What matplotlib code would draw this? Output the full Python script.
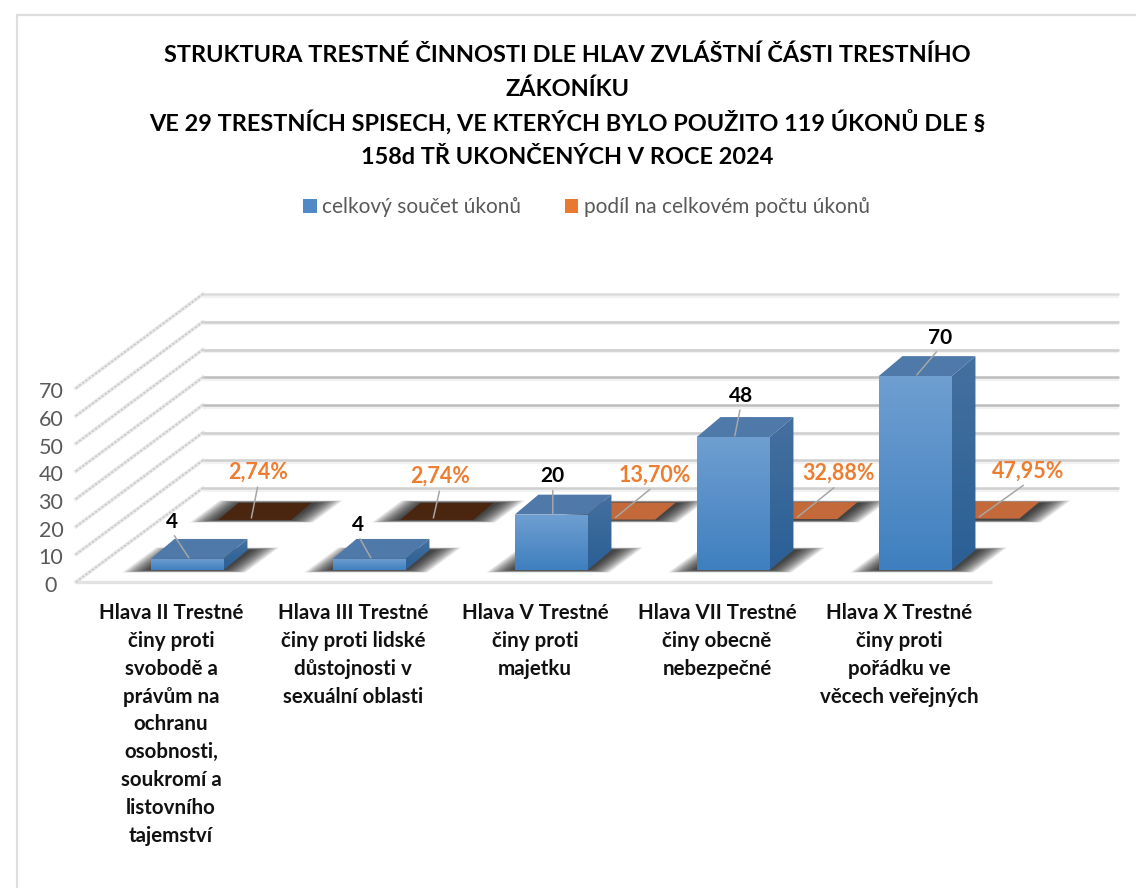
# plot.py
import matplotlib
matplotlib.use("Agg")
import matplotlib.pyplot as plt
import numpy as np
from matplotlib.colors import to_rgb
from matplotlib.patches import Patch, Polygon, Rectangle
from matplotlib.transforms import ScaledTranslation

plt.rcParams['font.family'] = ['Lato', 'DejaVu Sans']

# === data ===
categories = [
    "Hlava II Trestné\nčiny proti\nsvobodě a\nprávům na\nochranu\nosobnosti,\nsoukromí a\nlistovního\ntajemství",
    "Hlava III Trestné\nčiny proti lidské\ndůstojnosti v\nsexuální oblasti",
    "Hlava V Trestné\nčiny proti\nmajetku",
    "Hlava VII Trestné\nčiny obecně\nnebezpečné",
    "Hlava X Trestné\nčiny proti\npořádku ve\nvěcech veřejných",
]
total_acts = [4, 4, 20, 48, 70]
share_acts = [0.0274, 0.0274, 0.1370, 0.3288, 0.4795]
value_ticks = [0, 10, 20, 30, 40, 50, 60, 70]
series_names = ["celkový součet úkonů", "podíl na celkovém počtu úkonů"]
title_lines = ["STRUKTURA TRESTNÉ ČINNOSTI DLE HLAV ZVLÁŠTNÍ ČÁSTI TRESTNÍHO",
               "ZÁKONÍKU",
               "VE 29 TRESTNÍCH SPISECH, VE KTERÝCH BYLO POUŽITO 119 ÚKONŮ DLE §",
               "158d TŘ UKONČENÝCH V ROCE 2024"]

# === layout (pixels of the 1136x888 picture) ===
W, H = 1136, 888
PITCH = 182.0   # px per category
UNIT = 2.77     # px per value unit
CAT0_PX = 171
ZERO_PX = 582
DEPTH_DX = 127 / PITCH   # floor skew, data units per unit of depth
DEPTH_DY = 94 / UNIT

title_y = [55, 89, 122, 157]
front_offsets = [(-17, 26), (-13, 23), (0, 27), (6, 30), (23, 27)]
rear_offsets = [(7, 35), (7, 31), (39, 32), (41, 33), (49, 35)]
rear_colors = ['#4a2510', '#4a2510', '#c4693a', '#c4693a', '#c4693a']


def project(c, d, v):
    """Oblique projection of (category, depth, value) into the 2D axes."""
    return c + d * DEPTH_DX, v + d * DEPTH_DY


def gradient_poly(ax, verts, top, bottom, zorder):
    """Fill a polygon with a vertical gradient, clipped image style."""
    verts = np.array(verts)
    grad = np.linspace(0, 1, 64)[:, None, None]
    img = (1 - grad) * np.array(to_rgb(bottom)) + grad * np.array(to_rgb(top))
    im = ax.imshow(img, origin='lower', aspect='auto', zorder=zorder,
                   extent=(verts[:, 0].min(), verts[:, 0].max(),
                           verts[:, 1].min(), verts[:, 1].max()))
    clip = Polygon(verts, closed=True, transform=ax.transData)
    im.set_clip_path(clip)


def draw_shadow(ax, c, d0, d1, half, zorder):
    """Soft floor shadow, built from stacked translucent parallelograms."""
    n = 14
    for i in range(n):
        frac = (n - i) / n
        grow = half + frac * 25 / PITCH
        edge = frac * 2.5 / 94   # a little blur towards and away from the viewer
        verts = [project(c - grow, d0 - edge, 0), project(c + grow, d0 - edge, 0),
                 project(c + grow, d1 + edge, 0), project(c - grow, d1 + edge, 0)]
        ax.add_patch(Polygon(verts, closed=True, fc='black', ec='none',
                             alpha=0.085, zorder=zorder))


def draw_bar(ax, c, v, d0, d1, half, front_top, front_bot, side_top, side_bot,
             top_col, zorder):
    fl = project(c - half, d0, 0)
    fr = project(c + half, d0, 0)
    flt = project(c - half, d0, v)
    frt = project(c + half, d0, v)
    # the bars use a flatter skew than the floor
    skew = 0.88
    dx = (d1 - d0) * DEPTH_DX * skew
    dy = (d1 - d0) * DEPTH_DY
    brt = (frt[0] + dx, frt[1] + dy)
    blt = (flt[0] + dx, flt[1] + dy)
    br = (fr[0] + dx, fr[1] + dy)
    ax.add_patch(Polygon([flt, frt, brt, blt], closed=True, fc=top_col, ec='none', zorder=zorder))
    if v > 1:
        gradient_poly(ax, [fr, br, brt, frt], side_top, side_bot, zorder)
        gradient_poly(ax, [fl, fr, frt, flt], front_top, front_bot, zorder + 0.1)


fig = plt.figure(figsize=(W / 100, H / 100), dpi=100)
ax = fig.add_axes([0, 0, 1, 1])
cats = np.arange(len(categories))
floor_l, floor_r = -0.522, 4.51

# walls and floor
for v in value_ticks:
    shade = '#bdbdbd' if v in (30, 40) else ('#cfcfcf' if v < 70 else '#dcdcdc')
    x0, y0 = project(floor_l, 1, v)
    x1, y1 = project(floor_r, 1, v)
    ax.plot([x0, x1], [y0 - 1.6 / UNIT, y1 - 1.6 / UNIT], color='#f2f2f2', lw=3, zorder=1,
            solid_capstyle='butt')
    ax.plot([x0, x1], [y0, y1], color=shade, lw=1.8, zorder=1.1, solid_capstyle='butt')
    fx, fy = project(floor_l, 0, v)
    ax.plot([fx, x0], [fy, y0], color='#e8e8e8', lw=2.6, zorder=1)
    ax.plot([fx, x0], [fy, y0], color='#c8c8c8', lw=1.2, ls=(0, (1.2, 1.2)), zorder=1.1)
x0, y0 = project(floor_l, 0, 0)
x1, y1 = project(floor_r, 0, 0)
ax.plot([x0, x1], [y0, y1], color='#e2e2e2', lw=2.4, zorder=1, solid_capstyle='butt')

# rear series (share of acts) - the values are fractions, so almost flat
rear_half = 36.5 / PITCH
for c, v, col, off in zip(cats, share_acts, rear_colors, rear_offsets):
    draw_shadow(ax, c, 0.66, 0.84, rear_half, 2)
    draw_bar(ax, c, v, 0.66, 0.84, rear_half, col, col, col, col, col, 3)
    x, y = project(c, 0.68, v)
    xy = (x - 6 / PITCH, y)
    txt = f"{v * 100:.2f}%".replace('.', ',')
    ax.annotate(txt, xy=xy, xytext=off, textcoords='offset pixels', ha='center', va='bottom',
                color='#ed7d31', fontsize=15.5, fontweight='bold', zorder=8,
                arrowprops=dict(arrowstyle='-', color='#a6a6a6', lw=1.1, shrinkA=1, shrinkB=0,
                                relpos=(0.5, 0), zorder=8))

# front series (total number of acts)
front_half = 36.5 / PITCH
for c, v, off in zip(cats, total_acts, front_offsets):
    draw_shadow(ax, c, 0.128, 0.34, front_half, 4)
    draw_bar(ax, c, v, 0.128, 0.34, front_half, '#6f9fd1', '#3f7fbf', '#44709f', '#2b5f95',
             '#4f79a9', 5)
    xy = project(c, 0.14, v)
    ax.annotate(str(v), xy=xy, xytext=off, textcoords='offset pixels', ha='center', va='bottom',
                color='black', fontsize=15, fontweight='bold', zorder=9,
                arrowprops=dict(arrowstyle='-', color='#a6a6a6', lw=1.1, shrinkA=1, shrinkB=0,
                                relpos=(0.5, 0), zorder=9))

# axes
ax.set_xlim((0 - CAT0_PX) / PITCH, (W - CAT0_PX) / PITCH)
ax.set_ylim((ZERO_PX - H) / UNIT, ZERO_PX / UNIT)
for name in ('top', 'right'):
    ax.spines[name].set_visible(False)
ax.spines['left'].set_position(('data', (51 - CAT0_PX) / PITCH))
ax.spines['bottom'].set_position(('data', (ZERO_PX - 603) / UNIT))
ax.spines['left'].set_color('none')
ax.spines['bottom'].set_color('none')
ax.patch.set_alpha(0)
ax.set_yticks(value_ticks)
ax.set_xticks(cats, categories)
ax.tick_params(axis='y', length=0, pad=0, labelsize=15.5, labelcolor='#595959')
ax.tick_params(axis='x', length=0, pad=0, labelsize=14.8, labelcolor='#111111')
shift = ScaledTranslation(0, -2 / 100, fig.dpi_scale_trans)
for lab in ax.get_yticklabels():
    lab.set_ha('center')
    lab.set_transform(lab.get_transform() + shift)
for lab in ax.get_xticklabels():
    lab.set_fontweight('bold')
    lab.set_linespacing(1.49)

# chart frame, cut off by the picture on the right and at the bottom
fig.add_artist(Rectangle((17 / W, -0.05), 1.2, 1 - 15 / H + 0.05, transform=fig.transFigure,
                         fc='none', ec='#dedede', lw=1.6))

for line, y in zip(title_lines, title_y):
    fig.text(567 / W, 1 - y / H, line, ha='center', va='center', fontsize=16.9,
             fontweight='bold', color='black')

handles = [Patch(fc='#4f8ac6', ec='none'), Patch(fc='#e8792e', ec='none')]
fig.legend(handles, series_names, loc='center', bbox_to_anchor=(586.5 / W, 1 - 207 / H), ncols=2,
           frameon=False, fontsize=15, labelcolor='#595959', handlelength=0.65, handleheight=0.65,
           handletextpad=0.25, columnspacing=2.1)

fig.savefig("out.png", dpi=100)
